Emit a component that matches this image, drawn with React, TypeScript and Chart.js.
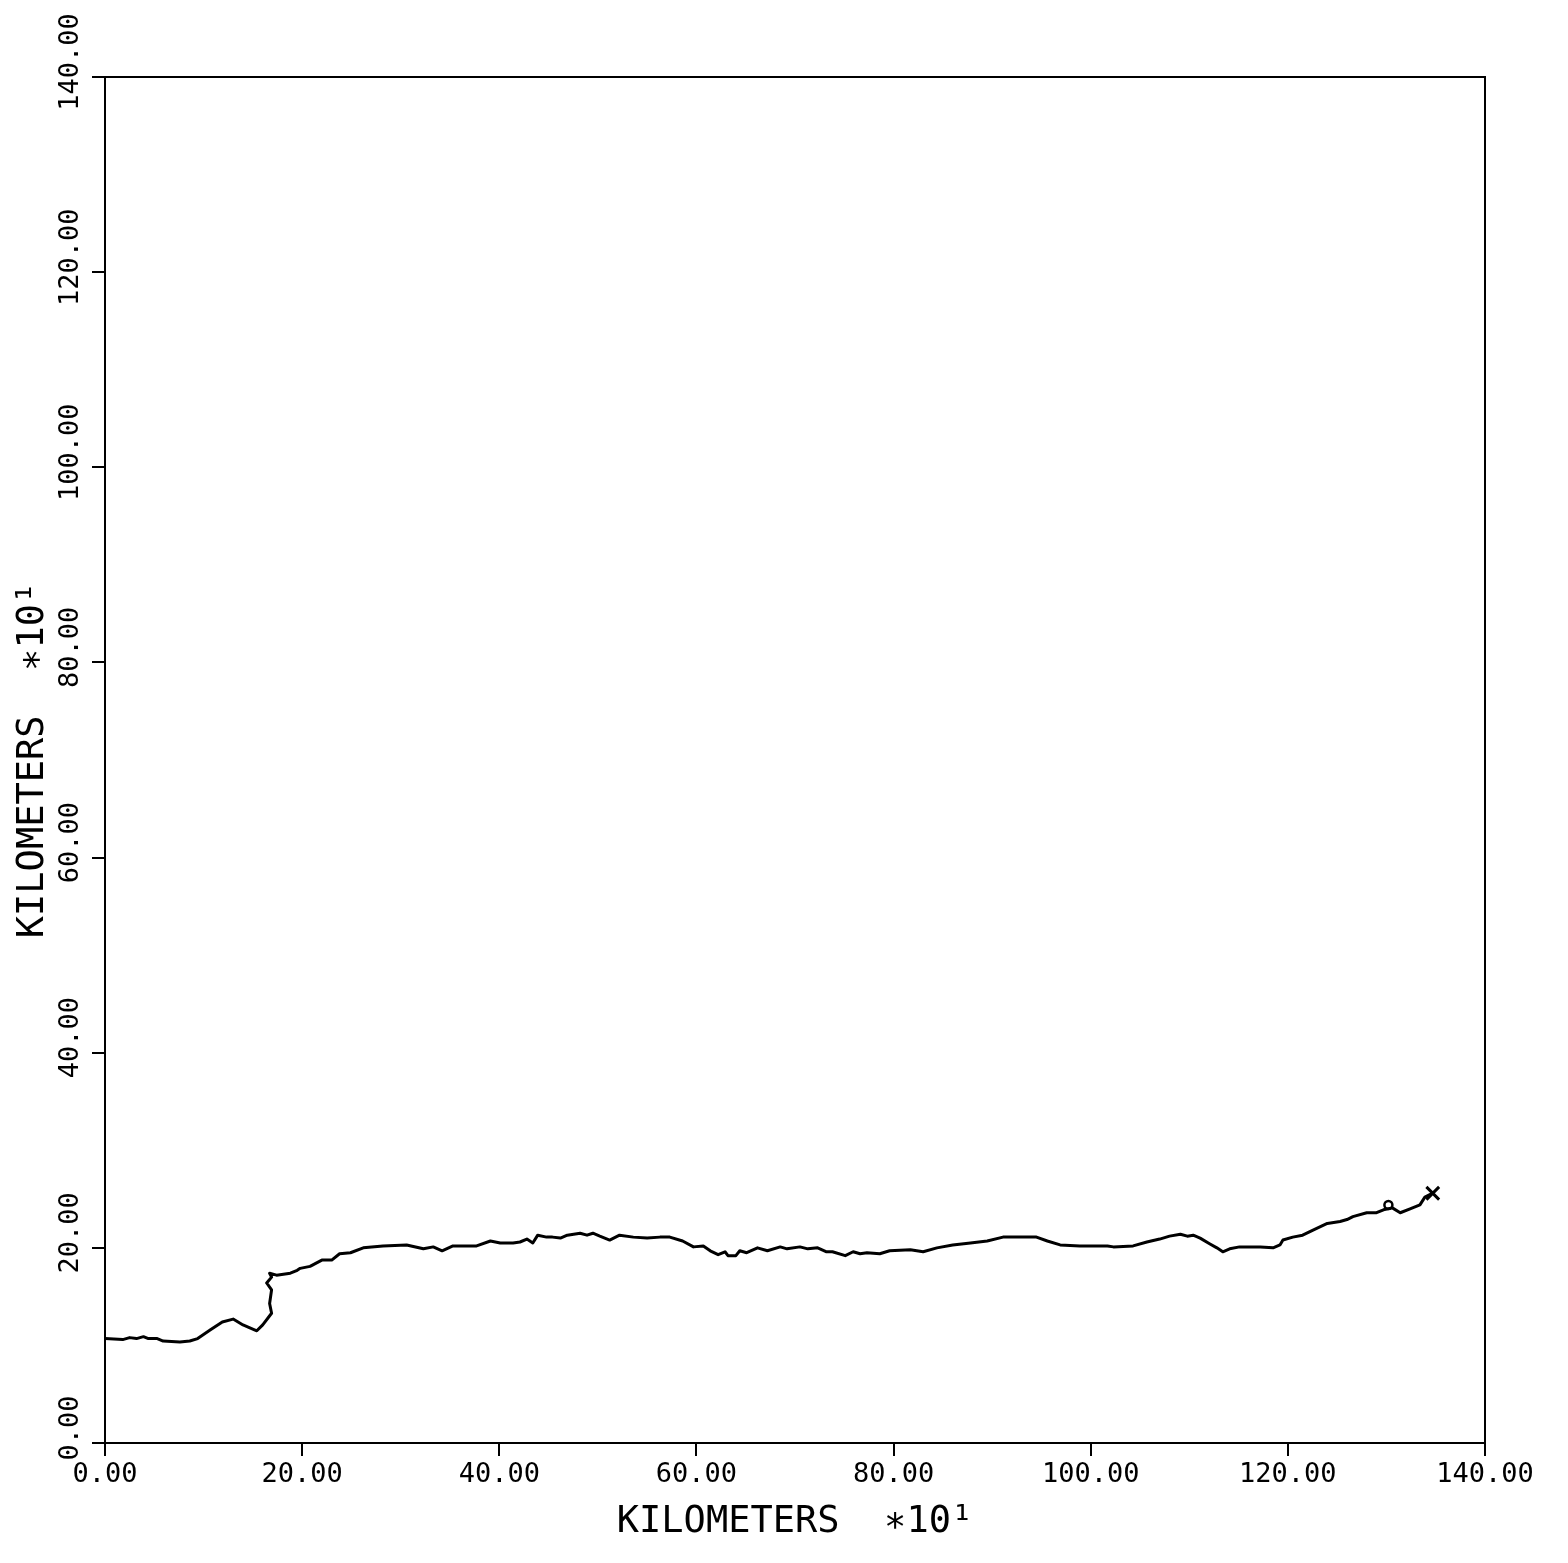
import React, { useEffect, useRef } from "react";
import { Chart, registerables } from "chart.js";

Chart.register(...registerables);

// Track coordinates (km ×10)
const trackX: number[] = [
  0.0, 1.8, 2.5, 3.2, 3.9, 4.4, 5.3, 5.9, 7.6, 8.6, 9.4, 10.7, 11.9, 13.0, 14.0, 15.4,
  16.0, 16.9, 16.7, 16.9, 16.4, 16.9, 16.7, 17.4, 18.8, 19.5, 19.8, 20.8, 22.0, 23.0,
  23.8, 24.9, 26.2, 28.2, 30.6, 32.3, 33.3, 34.2, 35.3, 37.7, 39.1, 40.1, 41.4, 42.1,
  42.8, 43.4, 43.9, 44.8, 45.4, 46.2, 46.9, 48.2, 48.9, 49.5, 50.2, 51.2, 52.2, 53.6,
  55.0, 56.3, 57.3, 58.6, 59.7, 60.7, 61.4, 62.2, 62.9, 63.2, 64.0, 64.4, 65.1, 66.2,
  67.2, 68.5, 69.2, 70.5, 71.3, 72.3, 73.2, 73.8, 75.1, 75.9, 76.6, 77.3, 78.6, 79.6,
  81.7, 83.0, 84.4, 86.0, 87.8, 89.5, 91.1, 94.5, 95.6, 96.9, 98.9, 101.7, 102.3, 104.3,
  105.7, 107.0, 108.0, 109.1, 109.8, 110.4, 111.1, 112.1, 112.8, 113.4, 114.1, 115.1,
  115.8, 117.2, 118.5, 119.2, 119.5, 120.5, 121.5, 122.5, 124.0, 125.3, 126.0, 126.6,
  128.0, 129.0, 129.7, 130.6, 131.4, 132.4, 133.4, 133.9, 134.7,
];
const trackY: number[] = [
  10.7, 10.6, 10.8, 10.7, 10.9, 10.7, 10.7, 10.45, 10.35, 10.45, 10.7, 11.6, 12.4, 12.7, 12.1, 11.5,
  12.1, 13.3, 14.3, 15.7, 16.4, 17.0, 17.4, 17.2, 17.4, 17.7, 17.9, 18.1, 18.75, 18.75,
  19.4, 19.5, 20.0, 20.2, 20.3, 19.9, 20.1, 19.7, 20.2, 20.2, 20.7, 20.5, 20.5, 20.6,
  20.9, 20.5, 21.3, 21.1, 21.1, 21.0, 21.3, 21.5, 21.3, 21.5, 21.2, 20.8, 21.3, 21.1,
  21.0, 21.1, 21.1, 20.7, 20.1, 20.2, 19.7, 19.3, 19.6, 19.2, 19.2, 19.7, 19.5, 20.0,
  19.7, 20.1, 19.9, 20.1, 19.9, 20.0, 19.6, 19.6, 19.2, 19.6, 19.4, 19.5, 19.4, 19.7,
  19.8, 19.6, 20.0, 20.3, 20.5, 20.7, 21.1, 21.1, 20.7, 20.3, 20.2, 20.2, 20.1, 20.2,
  20.6, 20.9, 21.2, 21.4, 21.2, 21.3, 21.0, 20.4, 20.0, 19.6, 19.9, 20.1,
  20.1, 20.1, 20.0, 20.3, 20.8, 21.1, 21.3, 21.8, 22.5, 22.7, 22.9, 23.2,
  23.6, 23.6, 23.9, 24.1, 23.6, 24.0, 24.4, 25.2, 25.6,
];

// Markers
const circleMarkerX: number[] = [130.2];
const circleMarkerY: number[] = [24.4];
const endMarkerX: number[] = [134.7];
const endMarkerY: number[] = [25.6];

const tickValues: number[] = [0, 20, 40, 60, 80, 100, 120, 140];
const axisTitle = "KILOMETERS  \u221710\u00b9";

const FONT = "'DejaVu Sans Mono', monospace";

export default function App() {
  const ref = useRef<HTMLCanvasElement | null>(null);

  useEffect(() => {
    if (!ref.current) return;
    const toPts = (xs: number[], ys: number[]) => xs.map((x, i) => ({ x, y: ys[i] }));

    const framePlugin = {
      id: "frameAndYLabels",
      afterDraw(chart: any) {
        const { ctx, chartArea } = chart;
        ctx.save();
        ctx.strokeStyle = "#000";
        ctx.lineWidth = 2;
        ctx.strokeRect(chartArea.left, chartArea.top, chartArea.right - chartArea.left, chartArea.bottom - chartArea.top);
        const ys = chart.scales.y;
        ctx.fillStyle = "#000";
        ctx.font = `27px ${FONT}`;
        ctx.textAlign = "center";
        ctx.textBaseline = "middle";
        ys.ticks.forEach((t: any) => {
          const py = ys.getPixelForValue(t.value);
          ctx.save();
          ctx.translate(63, py - 15);
          ctx.rotate(-Math.PI / 2);
          ctx.fillText(Number(t.value).toFixed(2), 0, 0);
          ctx.restore();
        });
        ctx.restore();
      },
    };

    const chart = new Chart(ref.current, {
      type: "scatter",
      data: {
        datasets: [
          {
            data: toPts(trackX, trackY),
            showLine: true,
            borderColor: "#000",
            borderWidth: 3,
            borderJoinStyle: "round",
            pointRadius: 0,
            tension: 0,
          },
          {
            data: toPts(circleMarkerX, circleMarkerY),
            pointStyle: "circle",
            pointRadius: 4,
            pointBorderWidth: 2.5,
            pointBorderColor: "#000",
            pointBackgroundColor: "rgba(0,0,0,0)",
          },
          {
            data: toPts(endMarkerX, endMarkerY),
            pointStyle: "crossRot",
            pointRadius: 9,
            pointBorderWidth: 3,
            pointBorderColor: "#000",
          },
        ],
      },
      options: {
        animation: false,
        responsive: false,
        layout: { padding: { top: 69, right: 75, left: 0, bottom: 0 } },
        plugins: { legend: { display: false }, tooltip: { enabled: false } },
        scales: {
          x: {
            type: "linear",
            min: 0,
            max: 140,
            afterBuildTicks: (s: any) => {
              s.ticks = tickValues.map((v) => ({ value: v }));
            },
            afterFit: (s: any) => {
              s.height = 112;
            },
            ticks: {
              color: "#000",
              font: { family: FONT, size: 27 },
              padding: 3,
              maxRotation: 0,
              callback: (v: any) => Number(v).toFixed(2),
            },
            grid: {
              display: true,
              drawOnChartArea: false,
              drawTicks: true,
              tickLength: 13,
              color: "#000",
              lineWidth: 2,
            },
            border: { display: true, color: "#000", width: 2 },
            title: {
              display: true,
              text: axisTitle,
              color: "#000",
              font: { family: FONT, size: 37 },
              padding: { top: 0, bottom: 10 },
            },
          },
          y: {
            type: "linear",
            min: 0,
            max: 140,
            afterBuildTicks: (s: any) => {
              s.ticks = tickValues.map((v) => ({ value: v }));
            },
            afterFit: (s: any) => {
              s.width = 97;
            },
            ticks: { display: false },
            grid: {
              display: true,
              drawOnChartArea: false,
              drawTicks: true,
              tickLength: 13,
              color: "#000",
              lineWidth: 2,
            },
            border: { display: true, color: "#000", width: 2 },
            title: {
              display: true,
              text: axisTitle,
              color: "#000",
              font: { family: FONT, size: 37 },
              padding: { top: 3, bottom: 0 },
            },
          },
        },
      },
      plugins: [framePlugin],
    } as any);

    return () => chart.destroy();
  }, []);

  return (
    <div style={{ width: 1552, height: 1547 }}>
      <canvas ref={ref} width={1552} height={1547} style={{ display: "block" }} />
    </div>
  );
}
